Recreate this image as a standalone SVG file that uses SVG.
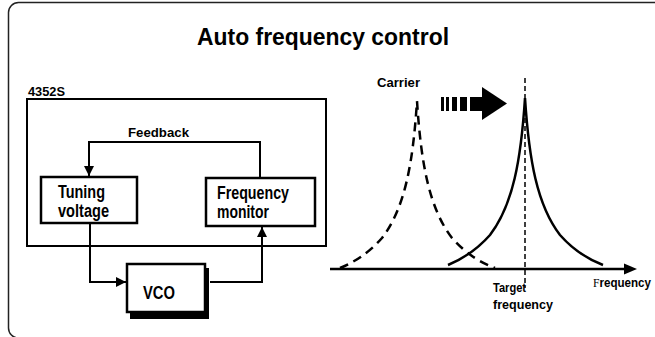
<svg xmlns="http://www.w3.org/2000/svg" width="655" height="337" viewBox="0 0 655 337">
<defs>
<style>
text{font-family:"Liberation Sans Narrow","Liberation Sans",Arial,sans-serif;font-weight:bold;fill:#000}
.box{fill:#fff;stroke:#000;stroke-width:2.5}
.con{fill:none;stroke:#000;stroke-width:2}
.curve{fill:none;stroke:#000;stroke-width:2.5}
</style>
<marker id="ah" viewBox="0 0 10 10" refX="10" refY="5" markerWidth="5" markerHeight="5" orient="auto" markerUnits="strokeWidth">
<path d="M0,0 L10,5 L0,10 z" fill="#000"/>
</marker>
</defs>
<rect width="655" height="337" fill="#fff"/>
<rect x="8.5" y="2.5" width="700" height="335.5" rx="10" fill="none" stroke="#222" stroke-width="1.5"/>
<g id="title"><text x="197" y="45" font-size="23.5" textLength="252" lengthAdjust="spacingAndGlyphs">Auto frequency control</text></g>
<g id="unit-4352S">
<rect x="27" y="99" width="299" height="147" fill="none" stroke="#000" stroke-width="2"/>
<text x="28" y="96" font-size="12" textLength="37" lengthAdjust="spacingAndGlyphs">4352S</text>
</g>
<g id="tuning-voltage">
<rect class="box" x="41" y="177" width="96" height="46"/>
<text x="58" y="198" font-size="17.5" textLength="47" lengthAdjust="spacingAndGlyphs">Tuning</text>
<text x="58" y="217" font-size="17.5" textLength="51" lengthAdjust="spacingAndGlyphs">voltage</text>
</g>
<g id="frequency-monitor">
<rect class="box" x="206" y="178" width="109" height="48"/>
<text x="217" y="199" font-size="17.5" textLength="72" lengthAdjust="spacingAndGlyphs">Frequency</text>
<text x="217" y="218" font-size="17.5" textLength="52" lengthAdjust="spacingAndGlyphs">monitor</text>
</g>
<g id="vco">
<rect x="130" y="268" width="79" height="51" fill="#000"/>
<rect class="box" x="127" y="264" width="78" height="48"/>
<text x="143" y="299" font-size="19" textLength="32" lengthAdjust="spacingAndGlyphs">VCO</text>
</g>
<g id="connectors">
<path class="con" d="M260,178 V142 H89 V176" marker-end="url(#ah)"/>
<path class="con" d="M90,223 V282 H126" marker-end="url(#ah)"/>
<path class="con" d="M210,282 H262 V227" marker-end="url(#ah)"/>
<text x="128" y="137" font-size="13" textLength="61" lengthAdjust="spacingAndGlyphs">Feedback</text>
</g>
<g id="spectrum">
<line x1="330" y1="269" x2="625" y2="269" stroke="#000" stroke-width="2.5"/>
<path d="M624,263.5 L637,269 L624,274.5 z" fill="#000"/>
<line x1="525" y1="78" x2="525" y2="288" stroke="#000" stroke-width="1.5" stroke-dasharray="5,3"/>
<path id="solid-peak" class="curve" d="M448,265 C460,260 475,252 490,235 C513,205 521,160 525,98 C529,160 537,205 560,235 C575,252 590,260 603,265"/>
<path id="carrier-peak" class="curve" stroke-dasharray="9,6" transform="translate(-108,3)" d="M448,265 C460,260 475,252 490,235 C513,205 521,160 525,98 C529,160 537,205 560,235 C575,252 590,260 603,265"/>
<g id="shift-arrow" fill="#000">
<rect x="441" y="97" width="3" height="14"/>
<rect x="446" y="97" width="3" height="14"/>
<rect x="452" y="97" width="5" height="14"/>
<rect x="460" y="97" width="7" height="14"/>
<rect x="470" y="97" width="13" height="14"/>
<path d="M482,87 L507,103.5 L482,120 z"/>
</g>
<text x="377" y="87" font-size="13.5" textLength="43" lengthAdjust="spacingAndGlyphs">Carrier</text>
<text x="493" y="292" font-size="12.5" textLength="33" lengthAdjust="spacingAndGlyphs">Target</text>
<text x="493" y="309" font-size="12.5" textLength="60" lengthAdjust="spacingAndGlyphs">frequency</text>
<text x="593" y="287" font-size="12.5" textLength="58" lengthAdjust="spacingAndGlyphs"><tspan font-family="'Liberation Serif',serif" font-weight="normal">F</tspan>requency</text>
</g>
</svg>
